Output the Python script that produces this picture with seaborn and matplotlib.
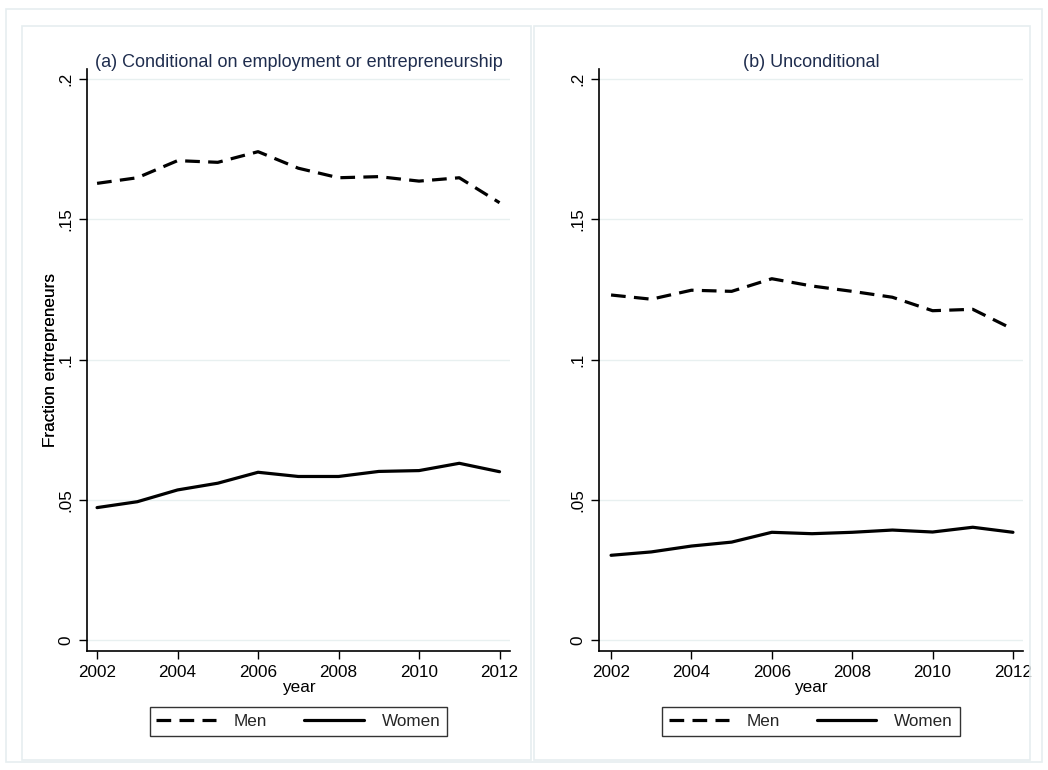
import numpy as np
import pandas as pd
import matplotlib
matplotlib.use("Agg")
import matplotlib.pyplot as plt
from matplotlib.patches import Rectangle
from matplotlib.lines import Line2D
import seaborn as sns

years = [2002, 2003, 2004, 2005, 2006, 2007, 2008, 2009, 2010, 2011, 2012]

# (a) conditional on employment or entrepreneurship
cond_men = [0.1628, 0.1648, 0.1709, 0.1703, 0.1741, 0.1682, 0.1648, 0.1652, 0.1636, 0.1648, 0.1559]
cond_women = [0.0472, 0.0493, 0.0535, 0.0559, 0.0598, 0.0583, 0.0583, 0.0601, 0.0604, 0.0630, 0.0600]

# (b) unconditional
unc_men = [0.1230, 0.1215, 0.1247, 0.1243, 0.1288, 0.1262, 0.1243, 0.1222, 0.1174, 0.1179, 0.1108]
unc_women = [0.0302, 0.0314, 0.0335, 0.0349, 0.0384, 0.0379, 0.0384, 0.0392, 0.0385, 0.0402, 0.0384]

panel_titles = ["(a) Conditional on employment or entrepreneurship", "(b) Unconditional"]
groups = ["Men", "Women"]
y_ticks = [0, 0.05, 0.1, 0.15, 0.2]
y_ticklabels = ["0", ".05", ".1", ".15", ".2"]
x_ticks = [2002, 2004, 2006, 2008, 2010, 2012]

def long_frame(men, women):
    return pd.DataFrame({
        "year": years * 2,
        "share": men + women,
        "sex": ["Men"] * len(years) + ["Women"] * len(years),
    })

panels = [long_frame(cond_men, cond_women), long_frame(unc_men, unc_women)]

sns.set_theme(style="white")
plt.rcParams["font.family"] = ["Liberation Sans", "DejaVu Sans"]

W, H = 1048, 770
fig = plt.figure(figsize=(W / 100, H / 100), dpi=100)
fig.patch.set_facecolor("white")

frame_col = "#e6eef0"
grid_col = "#e8f0f0"
title_col = "#1f2d4e"
fs = 12.3

def px_rect(x0, y0, x1, y1):
    return Rectangle((x0 / W, 1 - y1 / H), (x1 - x0) / W, (y1 - y0) / H,
                     transform=fig.transFigure, fill=False,
                     edgecolor=frame_col, linewidth=1.2, zorder=0)

# outer graph region and the two sub-graph regions
fig.patches.append(px_rect(6, 9, 1042, 762))
fig.patches.append(px_rect(22, 26, 531, 760))
fig.patches.append(px_rect(534, 26, 1030, 760))

axes_px = [(87, 510), (599, 1023)]
xlims = [(2001.75, 2012.26), (2001.70, 2012.25)]
legend_px = [(147, 450), (659, 963)]

dash_map = {"Men": (4.6, 2.6), "Women": ""}
lw = 2.3

for i, df in enumerate(panels):
    x0, x1 = axes_px[i]
    ax = fig.add_axes([x0 / W, 1 - 651 / H, (x1 - x0) / W, (651 - 69) / H])
    ax.set_facecolor("white")
    for yv in y_ticks:
        ax.axhline(yv, color=grid_col, lw=1.0, zorder=0)
    sns.lineplot(data=df, x="year", y="share", style="sex", style_order=groups,
                 dashes=dash_map, color="black", linewidth=lw, ax=ax,
                 legend=False)
    ax.set_xlim(*xlims[i])
    ax.set_ylim(-0.00392, 0.20357)
    ax.set_yticks(y_ticks)
    ax.set_yticklabels(y_ticklabels, rotation=90, va="center")
    ax.set_xticks(x_ticks)
    ax.set_xticklabels([str(x) for x in x_ticks])
    ax.tick_params(axis="both", which="major", length=6, width=1.0,
                   color="black", labelsize=fs, labelcolor="black",
                   direction="out", left=True, bottom=True)
    ax.tick_params(axis="x", pad=4)
    ax.tick_params(axis="y", pad=4)
    for side in ["top", "right"]:
        ax.spines[side].set_visible(False)
    for side in ["left", "bottom"]:
        ax.spines[side].set_visible(True)
        ax.spines[side].set_color("black")
        ax.spines[side].set_linewidth(1.2)
    ax.grid(False)
    ax.set_xlabel("year", fontsize=fs, color="black", labelpad=0)
    ax.set_ylabel("Fraction entrepreneurs", fontsize=fs, color="black")
    ax.yaxis.set_label_coords((58 - x0) / (x1 - x0), 0.5)
    ax.set_title(panel_titles[i], fontsize=13, color=title_col, pad=1.5)

    handles = [Line2D([], [], color="black", lw=lw, dashes=dash_map["Men"]),
               Line2D([], [], color="black", lw=lw)]
    lx0, lx1 = legend_px[i]
    leg = ax.legend(handles, groups, ncol=2, loc="center",
                    bbox_to_anchor=((lx0 + lx1) / 2 / W, 1 - 721.5 / H),
                    bbox_transform=fig.transFigure, frameon=True,
                    fancybox=False, edgecolor="black", fontsize=fs,
                    handlelength=3.5, handletextpad=1.05, columnspacing=2.15,
                    borderpad=0.4)
    leg.get_frame().set_linewidth(1.0)

fig.savefig("out.png", dpi=100, facecolor="white")
